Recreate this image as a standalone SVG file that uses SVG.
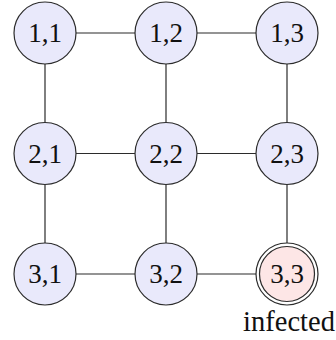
<svg xmlns="http://www.w3.org/2000/svg" width="336" height="340" viewBox="0 0 336 340">
<style>
.n{fill:#e9e9fb;stroke:#2b2b2b;stroke-width:1.2}
.inf{fill:#fde6e6;stroke:#2b2b2b;stroke-width:1.2}
.ring{fill:#fff;stroke:#2b2b2b;stroke-width:1.2}
.e{stroke:#2b2b2b;stroke-width:1.2;fill:none}
text{font-family:"Liberation Serif","DejaVu Serif",serif;font-size:27px;fill:#111;text-anchor:middle}
</style>
<rect width="336" height="340" fill="#fff"/>
<g id="edges">
<line class="e" x1="76" y1="33" x2="135" y2="33"/>
<line class="e" x1="197" y1="33" x2="256" y2="33"/>
<line class="e" x1="76" y1="153.5" x2="135" y2="153.5"/>
<line class="e" x1="197" y1="153.5" x2="256" y2="153.5"/>
<line class="e" x1="76" y1="274" x2="135" y2="274"/>
<line class="e" x1="197" y1="274" x2="256" y2="274"/>
<line class="e" x1="45" y1="64" x2="45" y2="122.5"/>
<line class="e" x1="45" y1="184.5" x2="45" y2="243"/>
<line class="e" x1="166" y1="64" x2="166" y2="122.5"/>
<line class="e" x1="166" y1="184.5" x2="166" y2="243"/>
<line class="e" x1="287" y1="64" x2="287" y2="122.5"/>
<line class="e" x1="287" y1="184.5" x2="287" y2="243"/>
</g>
<g id="n11"><circle class="n" cx="45" cy="33" r="31"/><text x="45" y="42">1,1</text></g>
<g id="n12"><circle class="n" cx="166" cy="33" r="31"/><text x="166" y="42">1,2</text></g>
<g id="n13"><circle class="n" cx="287" cy="33" r="31"/><text x="287" y="42">1,3</text></g>
<g id="n21"><circle class="n" cx="45" cy="153.5" r="31"/><text x="45" y="162.5">2,1</text></g>
<g id="n22"><circle class="n" cx="166" cy="153.5" r="31"/><text x="166" y="162.5">2,2</text></g>
<g id="n23"><circle class="n" cx="287" cy="153.5" r="31"/><text x="287" y="162.5">2,3</text></g>
<g id="n31"><circle class="n" cx="45" cy="274" r="31"/><text x="45" y="283">3,1</text></g>
<g id="n32"><circle class="n" cx="166" cy="274" r="31"/><text x="166" y="283">3,2</text></g>
<g id="n33"><circle class="ring" cx="287" cy="274" r="31"/><circle class="inf" cx="287" cy="274" r="27.5"/><text x="287" y="283">3,3</text><text x="289" y="331" style="font-size:28.5px">infected</text></g>
</svg>
